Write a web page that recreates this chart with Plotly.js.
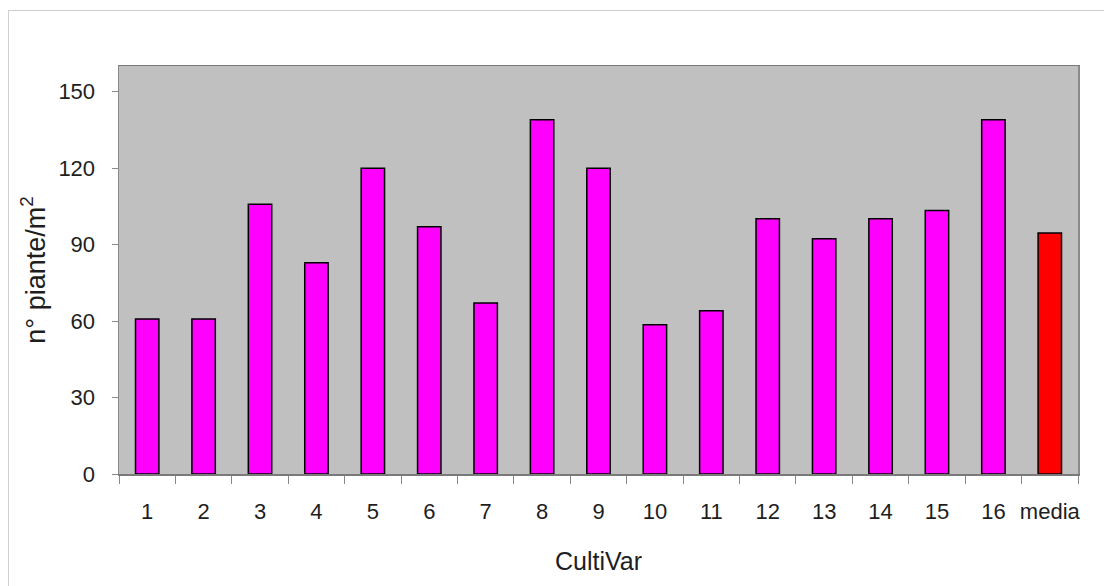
<!DOCTYPE html>
<html>
<head>
<meta charset="utf-8">
<script src="https://cdn.plot.ly/plotly-3.0.1.min.js"></script>
<style>
  html, body { margin: 0; padding: 0; background: #ffffff; }
  #wrap { position: relative; width: 1104px; height: 586px; overflow: hidden; }
  #frame { position: absolute; left: 8px; top: 10px; width: 1200px; height: 700px;
           border: 1px solid #cfcfcf; box-sizing: border-box; pointer-events: none; }
  #chart { position: absolute; left: 0; top: 0; width: 1104px; height: 586px; }
</style>
</head>
<body>
<div id="wrap">
  <div id="chart"></div>
  <div id="frame"></div>
</div>
<script>
// Plant density (plants per m²) for each cultivar, plus their mean
const cultivars = ['1', '2', '3', '4', '5', '6', '7', '8', '9', '10', '11', '12', '13', '14', '15', '16', 'media'];
const plantsPerM2 = [60.8, 60.8, 105.8, 82.8, 119.9, 97.0, 67.1, 138.9, 119.9, 58.5, 64.0, 100.1, 92.3, 100.1, 103.3, 138.9, 94.5];
const yTicks = [0, 30, 60, 90, 120, 150];

const barColors = cultivars.map(c => c === 'media' ? '#ff0000' : '#ff00ff');

const trace = {
  type: 'bar',
  x: cultivars,
  y: plantsPerM2,
  marker: { color: barColors, line: { color: '#000000', width: 1.5 } },
  hoverinfo: 'x+y'
};

const tickFont = { family: 'Liberation Sans, Arial, sans-serif', size: 22, color: '#1e1e1e' };

const layout = {
  width: 1104,
  height: 586,
  margin: { l: 119, r: 26, t: 66, b: 112 },
  paper_bgcolor: '#ffffff',
  plot_bgcolor: '#c0c0c0',
  showlegend: false,
  bargap: 0.585,
  xaxis: {
    type: 'category',
    tickson: 'boundaries',
    tickangle: 0,
    ticks: 'outside',
    ticklen: 8,
    tickcolor: '#8a8a8a',
    tickwidth: 1,
    tickfont: tickFont,
    ticklabelstandoff: 17,
    showline: true,
    linecolor: '#7a7a7a',
    linewidth: 1.5,
    mirror: true,
    showgrid: false,
    title: { text: 'CultiVar', font: { family: 'Liberation Sans, Arial, sans-serif', size: 25, color: '#1e1e1e' }, standoff: 29 }
  },
  yaxis: {
    range: [0, 160],
    tickvals: yTicks,
    ticktext: yTicks.map(String),
    ticks: 'outside',
    ticklen: 6,
    tickcolor: '#8a8a8a',
    tickwidth: 1,
    tickfont: tickFont,
    ticklabelstandoff: 12,
    showline: true,
    linecolor: '#8a8a8a',
    linewidth: 1.5,
    mirror: true,
    showgrid: false,
    zeroline: false,
    title: { text: 'n° piante/m<sup>2</sup>', font: { family: 'Liberation Sans, Arial, sans-serif', size: 27, color: '#1e1e1e' }, standoff: 5 }
  }
};

Plotly.newPlot('chart', [trace], layout, { staticPlot: true, displayModeBar: false });
</script>
</body>
</html>
